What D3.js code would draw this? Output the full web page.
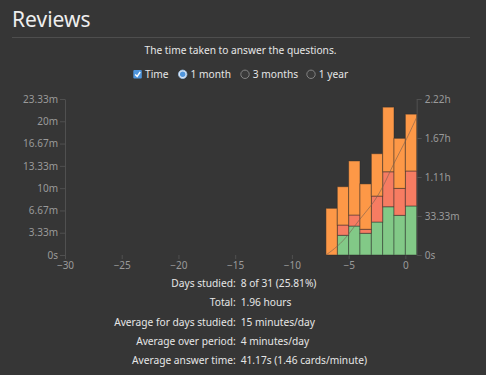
<!DOCTYPE html>
<html>
<head>
<meta charset="utf-8">
<script src="https://cdn.jsdelivr.net/npm/d3@7"></script>
<style>
  body { margin: 0; background: #363636; }
  svg { display: block; font-family: "Noto Sans", sans-serif; }
  .axis text { fill: #9a9a9a; font-size: 10px; font-family: "Noto Sans", sans-serif; }
  .axis line, .axis path { stroke: #505050; }
</style>
</head>
<body>
<svg id="chart" width="486" height="375"></svg>
<script>
// days back from today, seconds spent per day for each kind of review
var days = [-7, -6, -5, -4, -3, -2, -1, 0];
var matureSecs = [0, 177, 260, 195, 296, 433, 356, 440];
var relearnSecs = [0, 92, 99, 36, 233, 314, 242, 314];
var learnSecs = [419, 344, 485, 407, 380, 580, 449, 510];

var rangeLabels = ["1 month", "3 months", "1 year"];
var statLabels = ["Days studied:", "Total:", "Average for days studied:", "Average over period:", "Average answer time:"];
var statValues = ["8 of 31 (25.81%)", "1.96 hours", "15 minutes/day", "4 minutes/day", "41.17s (1.46 cards/minute)"];

var Config = {
  Left: 65,
  Right: 416.7,
  Top: 99,
  Bottom: 255,
  YMax: 1400,
  Y2Max: 8000,
  FontSize: "10.2px",
};

var colors = { mature: "#82c987", relearn: "#f67c62", learn: "#fd9847" };

var svg = d3.select("#chart");

// header
svg.append("text")
  .attr("x", 12).attr("y", 27)
  .attr("fill", "#eeeeee")
  .style("font-size", "21px")
  .text("Reviews");

svg.append("line")
  .attr("x1", 12).attr("x2", 470)
  .attr("y1", 37.5).attr("y2", 37.5)
  .attr("stroke", "#4e4e4e");

svg.append("text")
  .attr("x", 240.5).attr("y", 53.5)
  .attr("text-anchor", "middle")
  .attr("fill", "#e6e6e6")
  .style("font-size", Config.FontSize)
  .text("The time taken to answer the questions.");

// controls
var ctrlY = 74.3;
svg.append("rect")
  .attr("x", 133.3).attr("y", ctrlY - 4.3)
  .attr("width", 8.5).attr("height", 8.5)
  .attr("rx", 1)
  .attr("fill", "#4f95dc");
svg.append("path")
  .attr("d", "M135.2," + (ctrlY + 0.2) + " l2,2 l3,-4.5")
  .attr("fill", "none")
  .attr("stroke", "#ffffff")
  .attr("stroke-width", 1.4);
svg.append("text")
  .attr("x", 145).attr("y", ctrlY + 3.8)
  .attr("fill", "#e6e6e6")
  .style("font-size", Config.FontSize)
  .text("Time");

var radioX = [182.7, 245, 311];
rangeLabels.forEach(function (label, i) {
  svg.append("circle")
    .attr("cx", radioX[i]).attr("cy", ctrlY)
    .attr("r", 4.2)
    .attr("fill", i == 0 ? "#dfe8f3" : "#3a3a3a")
    .attr("stroke", i == 0 ? "#9bbfe6" : "#8a8a8a")
    .attr("stroke-width", 0.9);
  if (i == 0) {
    svg.append("circle")
      .attr("cx", radioX[i]).attr("cy", ctrlY)
      .attr("r", 2.7)
      .attr("fill", "#4f95dc");
  }
  svg.append("text")
    .attr("x", radioX[i] + 7.8).attr("y", ctrlY + 3.8)
    .attr("fill", "#e6e6e6")
    .style("font-size", Config.FontSize)
    .text(label);
});

// scales
var x = d3.scaleLinear().domain([-30, 1]).range([Config.Left, Config.Right]);
var y = d3.scaleLinear().domain([0, Config.YMax]).range([Config.Bottom, Config.Top]);
var y2 = d3.scaleLinear().domain([0, Config.Y2Max]).range([Config.Bottom, Config.Top]);

function timeSpan(secs) {
  if (secs == 0) return "0s";
  if (secs < 3600) return (+(secs / 60).toFixed(2)) + "m";
  return (+(secs / 3600).toFixed(2)) + "h";
}

svg.append("g")
  .attr("class", "axis")
  .attr("transform", "translate(" + Config.Left + ",0)")
  .call(d3.axisLeft(y).tickValues(d3.range(0, Config.YMax + 1, 200)).tickSize(5).tickSizeOuter(0).tickPadding(2).tickFormat(timeSpan));

svg.append("g")
  .attr("class", "axis")
  .attr("transform", "translate(" + Config.Right + ",0)")
  .call(d3.axisRight(y2).tickValues(d3.range(0, Config.Y2Max + 1, 2000)).tickSize(5).tickSizeOuter(0).tickPadding(3).tickFormat(timeSpan));

var xAxis = svg.append("g")
  .attr("class", "axis")
  .attr("transform", "translate(0," + Config.Bottom + ")")
  .call(d3.axisBottom(x).ticks(7).tickSize(4).tickSizeOuter(0).tickPadding(3));
xAxis.select(".domain").remove();

// stacked bars
var rows = days.map(function (d, i) {
  return { day: d, mature: matureSecs[i], relearn: relearnSecs[i], learn: learnSecs[i] };
});
var stack = d3.stack().keys(["mature", "relearn", "learn"])(rows);

svg.append("g")
  .selectAll("g")
  .data(stack)
  .enter()
  .append("g")
  .attr("fill", function (s) { return colors[s.key]; })
  .selectAll("rect")
  .data(function (s) { return s; })
  .enter()
  .append("rect")
  .attr("x", function (d) { return x(d.data.day); })
  .attr("width", function (d) { return x(d.data.day + 1) - x(d.data.day); })
  .attr("y", function (d) { return y(d[1]); })
  .attr("height", function (d) { return y(d[0]) - y(d[1]); })
  .attr("stroke", "rgba(40,40,40,0.45)")
  .attr("stroke-width", 1);

// cumulative line
var cum = [[days[0], 0]];
var total = 0;
rows.forEach(function (r) {
  total += r.mature + r.relearn + r.learn;
  cum.push([r.day + 1, total]);
});

svg.append("path")
  .datum(cum)
  .attr("fill", "none")
  .attr("stroke", "rgba(120,95,80,0.6)")
  .attr("stroke-width", 1)
  .attr("d", d3.line().curve(d3.curveBasis)
    .x(function (d) { return x(d[0]); })
    .y(function (d) { return y2(d[1]); }));

// stats table
var stats = svg.append("g").style("font-size", Config.FontSize).attr("fill", "#e6e6e6");
statLabels.forEach(function (label, i) {
  var yy = 287 + i * 19.25;
  stats.append("text").attr("x", 235.7).attr("y", yy).attr("text-anchor", "end").text(label);
  stats.append("text").attr("x", 240.7).attr("y", yy).text(statValues[i]);
});
</script>
</body>
</html>
